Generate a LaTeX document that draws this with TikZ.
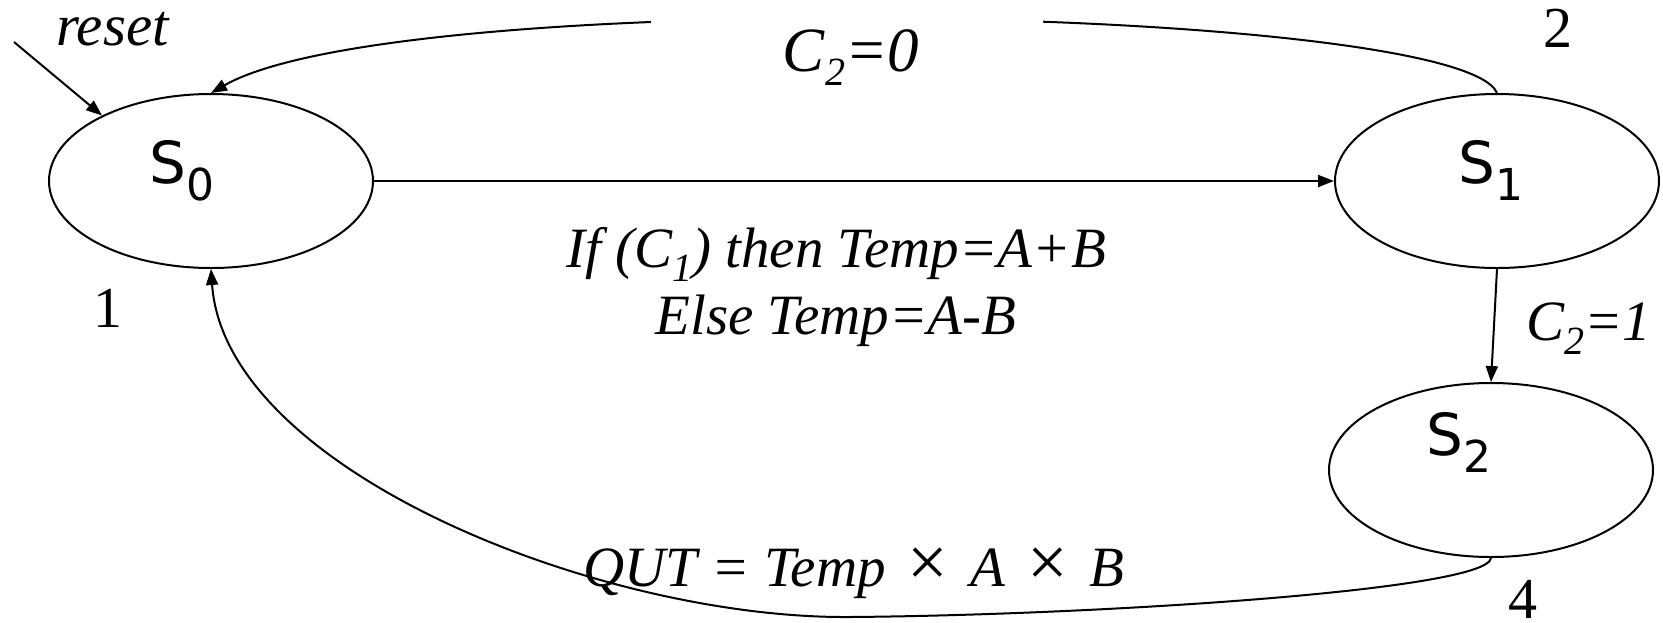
\documentclass[tikz,border=0pt]{standalone}
\usepackage{fontspec}
\setmainfont{Liberation Serif}
\newfontfamily\sansf{DejaVu Sans}
\usetikzlibrary{shapes.geometric,arrows.meta}
\newcommand{\subsi}[1]{\raisebox{-14pt}{\fontsize{40}{40}\selectfont #1}}
\newcommand{\subss}[1]{\raisebox{-17pt}{\fontsize{44}{44}\selectfont #1}}
\newcommand{\tms}{\hspace{22pt}{\upshape\fontsize{72}{72}\selectfont ×}\hspace{22pt}}
\tikzset{
  state/.style={draw, line width=2pt, ellipse, minimum width=324pt, minimum height=174pt, inner sep=0pt},
  stlbl/.style={anchor=base west, inner sep=0pt, font=\sansf\fontsize{58}{58}\selectfont},
  itl/.style={anchor=base, inner sep=0pt, font=\itshape\fontsize{57}{57}\selectfont},
  num/.style={anchor=base, inner sep=0pt, font=\fontsize{58}{58}\selectfont},
  arr/.style={-{Triangle[length=16pt,width=12pt]}, line width=2pt},
  blank/.style={fill=white, inner sep=0pt, minimum width=392pt, minimum height=96pt}
}
\begin{document}
\begin{tikzpicture}[x=1pt,y=-1pt]
\useasboundingbox (0,0) rectangle (1663,622);
% states
\node[state] (s0) at (211,181) {};
\node[state] (s1) at (1497,181) {};
\node[state] (s2) at (1491,470) {};
\node[stlbl] (t0) at (149,183) {S\subss{0}};
\node[stlbl] (t1) at (1458,183) {S\subss{1}};
\node[stlbl] (t2) at (1426,455) {S\subss{2}};
% reset
\coordinate (rst) at (14,42);
\draw[arr] (rst) -- (s0.149);
\node[anchor=base west, inner sep=0pt, font=\itshape\fontsize{59}{59}\selectfont] (lreset) at (56,45) {reset};
% S0 -> S1
\draw[arr] (s0.east) -- (s1.west);
\node[itl] (lif) at (836,267) {If (C\subsi{1}) then Temp=A+B};
\node[itl] (lelse) at (836,334) {Else Temp=A-B};
% S1 -> S0 (C2=0)
\draw[arr] (s1.north) .. controls (1460,5) and (400,-15) .. (s0.north);
\node[blank] (box0) at (847,60) {};
\node[anchor=base, inner sep=0pt, font=\itshape\fontsize{63}{63}\selectfont] (lc0) at (851,71) {C\subsi{2}=0};
% S1 -> S2
\draw[arr] (s1.south) -- (s2.north);
\node[anchor=base west, inner sep=0pt, font=\itshape\fontsize{57}{57}\selectfont] (lc1) at (1526,340) {C\subsi{2}=1};
% S2 -> S0
\coordinate (bot) at (850,617);
\draw[arr] (s2.south) .. controls (1488,590) and (1100,615) .. (bot)
  .. controls (600,619) and (225,470) .. (s0.south);
\node[itl] (lout) at (854,586) {QUT = Temp\tms A\tms B};
% numbers
\node[num] (n1) at (108,327) {1};
\node[num] (n2) at (1558,47) {2};
\node[num] (n4) at (1523,618) {4};
\end{tikzpicture}
\end{document}
